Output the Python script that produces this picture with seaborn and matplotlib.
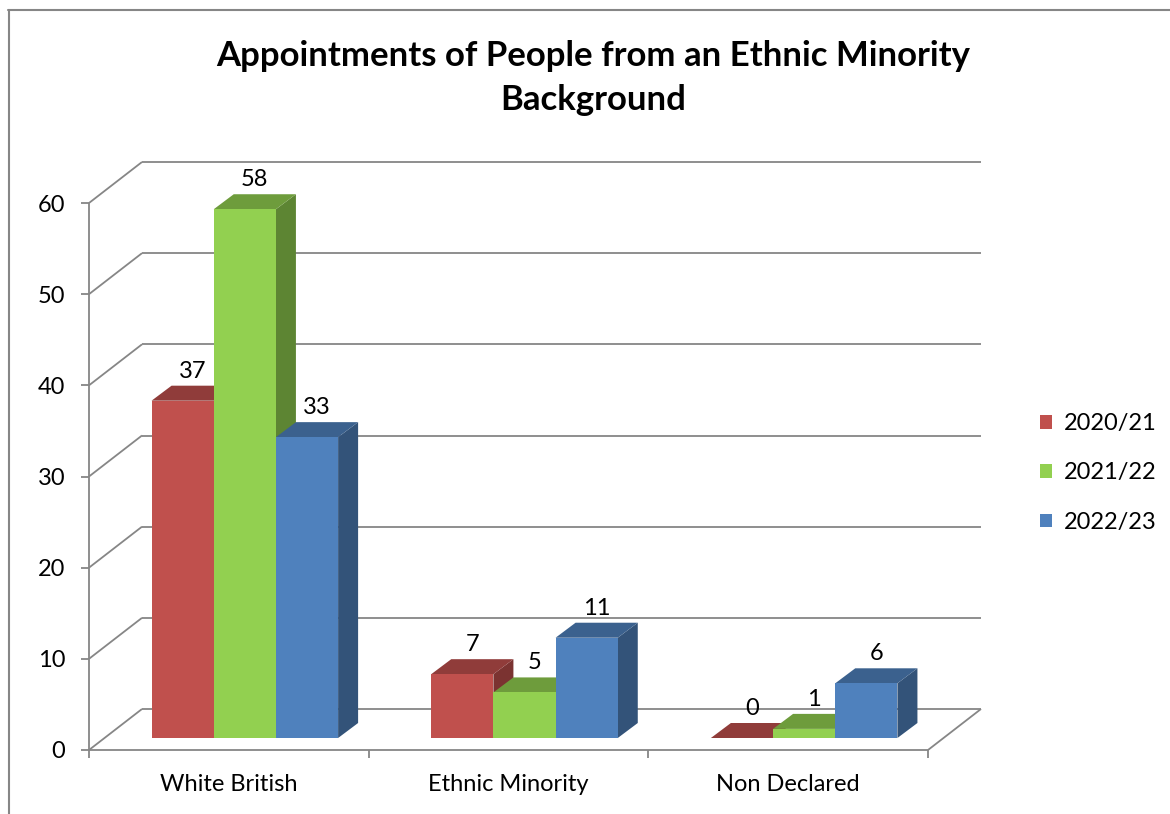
import matplotlib
matplotlib.use("Agg")
import matplotlib.pyplot as plt
import seaborn as sns
import pandas as pd
import numpy as np
from matplotlib.patches import Polygon, Patch
from matplotlib.lines import Line2D
from matplotlib.transforms import Affine2D, IdentityTransform

# ---------------- data ----------------
categories = ["White British", "Ethnic Minority", "Non Declared"]
years = ["2020/21", "2021/22", "2022/23"]
values_2020_21 = [37, 7, 0]
values_2021_22 = [58, 5, 1]
values_2022_23 = [33, 11, 6]
yticks = [0, 10, 20, 30, 40, 50, 60]
title = "Appointments of People from an Ethnic Minority\nBackground"
colors = ["#C0504D", "#92D050", "#4F81BD"]

df = pd.DataFrame({
    "category": categories * 3,
    "year": [years[0]] * 3 + [years[1]] * 3 + [years[2]] * 3,
    "value": values_2020_21 + values_2021_22 + values_2022_23,
})

sns.set_theme(style="white")
plt.rcParams["font.family"] = ["Lato", "DejaVu Sans"]
plt.rcParams["text.color"] = "black"

W, H = 1170, 814
GRID = "#868686"
BACK = np.array([53.0, 41.0])    # offset of back wall (pixels)
PLANE = np.array([16.0, 12.0])   # offset of bar front plane (pixels)
DEPTH = np.array([20.0, 15.0])   # bar depth (pixels)
FS = 17

fig = plt.figure(figsize=(W / 100, H / 100), dpi=100)
ax = fig.add_axes([89 / W, (H - 750) / H, 839 / W, 547 / H])

sns.barplot(data=df, x="category", y="value", hue="year", order=categories,
            hue_order=years, palette=colors, width=0.667, saturation=1,
            ax=ax, legend=False, linewidth=0, edgecolor="none")
ax.set_xlim(-0.5, 2.5)
ax.set_ylim(0, 60)
ax.autoscale(False)
for s in ax.spines.values():
    s.set_visible(False)
ax.patch.set_visible(False)
ax.set_xlabel("")
ax.set_ylabel("")


def disp(x, y):
    return ax.transData.transform((x, y))


def add_line(p0, p1, z=1):
    ln = Line2D([p0[0], p1[0]], [p0[1], p1[1]], color=GRID, lw=1.3,
                transform=IdentityTransform(), clip_on=False, zorder=z,
                solid_capstyle="butt")
    ax.add_line(ln)


# back wall gridlines + left wall diagonals
for v in yticks:
    f0 = disp(-0.5, v)
    f1 = disp(2.5, v)
    add_line(f0 + BACK, f1 + BACK)
    add_line(f0, f0 + BACK)
# floor right edge
add_line(disp(2.5, 0), disp(2.5, 0) + BACK)
# front axes lines
add_line(disp(-0.5, 0), disp(-0.5, 60), z=1.5)
add_line(disp(-0.5, 0), disp(2.5, 0), z=1.5)

# 3D bars
bars = sorted([p for p in ax.patches], key=lambda p: p.get_x())
for i, p in enumerate(bars):
    x0, w, h = p.get_x(), p.get_width(), p.get_height()
    rgb = np.array(p.get_facecolor()[:3])
    a = disp(x0, 0) + PLANE
    b = disp(x0 + w, h) + PLANE
    top = [(a[0], b[1]), (b[0], b[1]), (b[0] + DEPTH[0], b[1] + DEPTH[1]),
           (a[0] + DEPTH[0], b[1] + DEPTH[1])]
    side = [(b[0], a[1]), (b[0] + DEPTH[0], a[1] + DEPTH[1]),
            (b[0] + DEPTH[0], b[1] + DEPTH[1]), (b[0], b[1])]
    z = 3 + i * 3
    ax.add_patch(Polygon(side, closed=True, facecolor=rgb * 0.64,
                         edgecolor="none", transform=IdentityTransform(),
                         clip_on=False, zorder=z))
    ax.add_patch(Polygon(top, closed=True, facecolor=rgb * 0.75,
                         edgecolor="none", transform=IdentityTransform(),
                         clip_on=False, zorder=z + 1))
    p.set_transform(ax.transData + Affine2D().translate(*PLANE))
    p.set_clip_on(False)
    p.set_zorder(z + 2)
    ax.annotate(f"{int(round(h))}", xy=(x0 + w / 2, h),
                xytext=(PLANE[0] + 10, PLANE[1] + DEPTH[1] + 4),
                textcoords="offset pixels", ha="center", va="bottom",
                fontsize=FS, color="black", zorder=50, annotation_clip=False)

# ticks
ax.set_yticks(yticks)
ax.set_yticklabels([str(v) for v in yticks])
ax.set_xticks(range(len(categories)))
ax.set_xticklabels(categories)
ax.set_xticks([-0.5, 0.5, 1.5, 2.5], minor=True)
ax.tick_params(axis="y", which="major", left=True, length=6, width=1.3,
               color=GRID, pad=11, labelsize=FS, labelcolor="black")
ax.tick_params(axis="x", which="major", bottom=False, length=0, pad=17,
               labelsize=FS, labelcolor="black")
ax.tick_params(axis="x", which="minor", bottom=True, length=6, width=1.3,
               color=GRID)

# legend
handles = [Patch(facecolor=c, edgecolor="none") for c in colors]
fig.legend(handles, years, loc="center left",
           bbox_to_anchor=(1028 / W, 1 - 473 / H), frameon=False,
           fontsize=FS, handlelength=0.5, handleheight=0.5,
           handletextpad=0.5, labelspacing=1.2, borderpad=0,
           labelcolor="black")

# title
fig.text(593 / W, 1 - 40 / H, title, ha="center", va="top", fontsize=25,
         fontweight="bold", linespacing=1.45, color="black")

# chart border
fig.add_artist(Line2D([8.5 / W, 8.5 / W], [0, 1 - 10 / H], color=GRID, lw=1.5,
                      transform=fig.transFigure))
fig.add_artist(Line2D([8 / W, 1], [1 - 10 / H, 1 - 10 / H], color=GRID, lw=1.5,
                      transform=fig.transFigure))

fig.savefig("out.png", dpi=100)
